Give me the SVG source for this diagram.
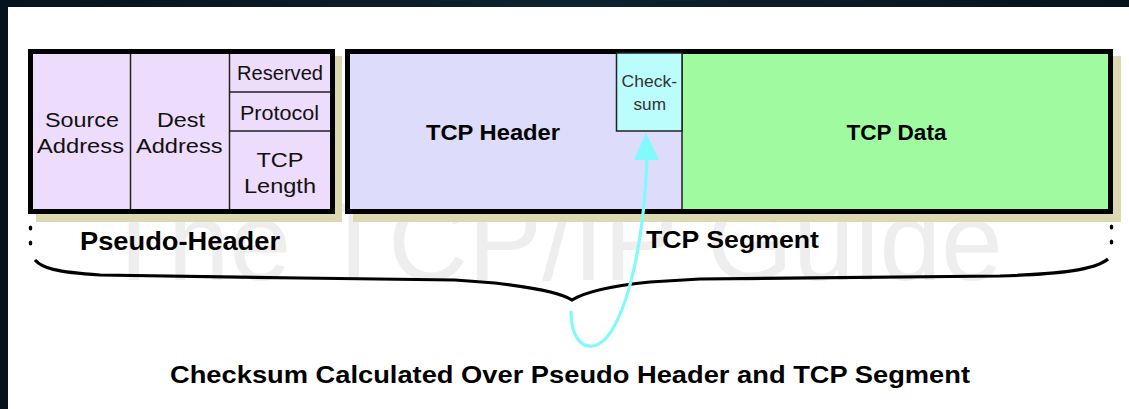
<svg xmlns="http://www.w3.org/2000/svg" width="1129" height="409" viewBox="0 0 1129 409">
  <style>
    .reg { font-family: "Liberation Sans", Arial, sans-serif; font-size: 21px; fill: #111; }
    .small { font-family: "Liberation Sans", Arial, sans-serif; font-size: 17px; fill: #333; }
    .bold { font-family: "Liberation Sans", Arial, sans-serif; font-weight: bold; fill: #000; }
    .shadow { fill: #dcd9b2; }
    .frame { stroke: #000; stroke-width: 5; }
    .div { stroke: #222; stroke-width: 1.5; fill: none; }
    .dot { fill: #000; }
  </style>
  <defs>
    <linearGradient id="bg" x1="0" y1="0" x2="1" y2="0">
      <stop offset="0" stop-color="#06121c"/>
      <stop offset="0.5" stop-color="#0d2230"/>
      <stop offset="1" stop-color="#06121c"/>
    </linearGradient>
  </defs>

  <!-- dark surround and white panel -->
  <rect x="0" y="0" width="1129" height="409" fill="url(#bg)"/>
  <rect x="8" y="7" width="1121" height="402" fill="#ffffff"/>

  <!-- watermark -->
  <text x="100" y="280" font-family="Liberation Sans, Arial, sans-serif" font-size="111" fill="#eeeeee">The TCP/IP Guide</text>

  <!-- Pseudo-header node -->
  <g id="pseudo-header">
    <rect class="shadow" x="36" y="56" width="306" height="166"/>
    <rect class="frame" x="30.5" y="51.5" width="302" height="160" fill="#eddcfb"/>
    <line class="div" x1="130.5" y1="54" x2="130.5" y2="209"/>
    <line class="div" x1="229.5" y1="54" x2="229.5" y2="209"/>
    <line class="div" x1="229.5" y1="92" x2="330" y2="92"/>
    <line class="div" x1="229.5" y1="131" x2="330" y2="131"/>
    <text class="reg" x="45" y="127" textLength="74" lengthAdjust="spacingAndGlyphs">Source</text>
    <text class="reg" x="37" y="153" textLength="87" lengthAdjust="spacingAndGlyphs">Address</text>
    <text class="reg" x="157" y="127" textLength="48" lengthAdjust="spacingAndGlyphs">Dest</text>
    <text class="reg" x="136" y="153" textLength="86.5" lengthAdjust="spacingAndGlyphs">Address</text>
    <text class="reg" x="237" y="80" textLength="86" lengthAdjust="spacingAndGlyphs">Reserved</text>
    <text class="reg" x="240" y="119.5" textLength="79" lengthAdjust="spacingAndGlyphs">Protocol</text>
    <text class="reg" x="256.5" y="166.5" textLength="47" lengthAdjust="spacingAndGlyphs">TCP</text>
    <text class="reg" x="244" y="193" textLength="72" lengthAdjust="spacingAndGlyphs">Length</text>
  </g>

  <!-- TCP segment node -->
  <g id="tcp-segment">
    <rect class="shadow" x="353" y="56" width="768" height="166"/>
    <rect class="frame" x="347.5" y="51.5" width="763" height="160" fill="#dddcfb"/>
    <rect x="682" y="54" width="426" height="155" fill="#a0fba0"/>
    <line class="div" x1="682" y1="54" x2="682" y2="209"/>
  </g>

  <g id="checksum">
    <rect x="616.5" y="53" width="65.5" height="78" fill="#bbfdfd" stroke="#222" stroke-width="1.5"/>
    <text class="small" x="621.5" y="86.5" textLength="55.5" lengthAdjust="spacingAndGlyphs">Check-</text>
    <text class="small" x="633.5" y="110" textLength="32.5" lengthAdjust="spacingAndGlyphs">sum</text>
  </g>

  <g id="tcp-header-label">
    <text class="bold" font-size="22" x="426" y="140" textLength="134" lengthAdjust="spacingAndGlyphs">TCP Header</text>
  </g>
  <g id="tcp-data-label">
    <text class="bold" font-size="22" x="846.5" y="139.5" textLength="100" lengthAdjust="spacingAndGlyphs">TCP Data</text>
  </g>

  <!-- brace and dotted ends -->
  <g id="brace">
    <ellipse class="dot" cx="30.5" cy="228" rx="1.8" ry="2.6"/>
    <ellipse class="dot" cx="30.5" cy="243" rx="1.8" ry="2.6"/>
    <ellipse class="dot" cx="1111.5" cy="227" rx="1.8" ry="2.6"/>
    <ellipse class="dot" cx="1111.5" cy="242" rx="1.8" ry="2.6"/>
    <path d="M 35 260 C 42 268, 55 272, 100 275 L 300 278 L 455 280 L 495 283 C 530 287, 560 292, 572 300 C 585 292, 610 286, 650 282 L 700 279 L 1000 276 C 1060 274, 1095 270, 1108 259" fill="none" stroke="#000" stroke-width="3.2" stroke-linejoin="miter"/>
  </g>

  <g id="labels">
    <text class="bold" font-size="25" x="80" y="250" textLength="200" lengthAdjust="spacingAndGlyphs">Pseudo-Header</text>
    <text class="bold" font-size="24.5" x="170" y="383" textLength="800" lengthAdjust="spacingAndGlyphs">Checksum Calculated Over Pseudo Header and TCP Segment</text>
  </g>

  <!-- connector: checksum arrow -->
  <g id="connectors">
    <path d="M 647 158 C 644 240, 630 300, 612 330 C 600 350, 585 350, 577 338 C 572 330, 571 320, 571 312" fill="none" stroke="#80fafa" stroke-width="3.2" stroke-linecap="round"/>
    <polygon points="646,133 634,160 659,160" fill="#80fafa"/>
  </g>

  <g id="tcp-segment-label">
    <text class="bold" font-size="24.5" x="646" y="247.5" textLength="173" lengthAdjust="spacingAndGlyphs">TCP Segment</text>
  </g>
</svg>
